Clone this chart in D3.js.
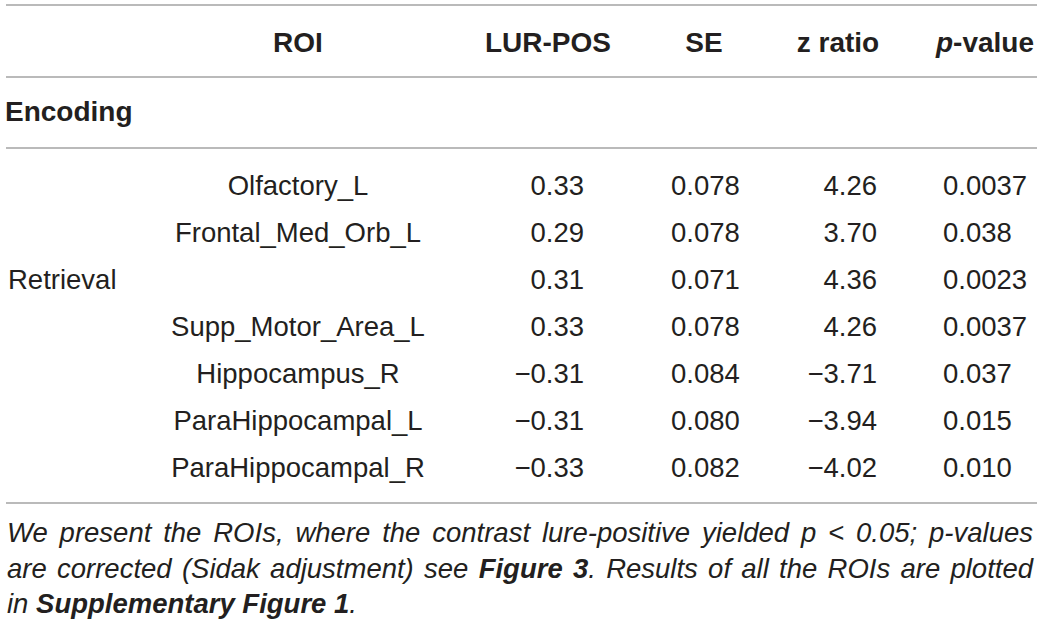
<!DOCTYPE html>
<html>
<head>
<meta charset="utf-8">
<script src="https://cdn.jsdelivr.net/npm/d3@7"></script>
<style>
  body { margin: 0; background: #fff; }
  svg text { font-family: "Liberation Sans", Arial, sans-serif; fill: #231f20; }
</style>
</head>
<body>
<script>
// table values
var headers = ["ROI", "LUR-POS", "SE", "z ratio", "p-value"];
var groupLabels = ["", "", "Retrieval", "", "", "", ""];
var rois = ["Olfactory_L", "Frontal_Med_Orb_L", "", "Supp_Motor_Area_L",
            "Hippocampus_R", "ParaHippocampal_L", "ParaHippocampal_R"];
var lurPos = [0.33, 0.29, 0.31, 0.33, -0.31, -0.31, -0.33];
var se = [0.078, 0.078, 0.071, 0.078, 0.084, 0.080, 0.082];
var zRatio = [4.26, 3.70, 4.36, 4.26, -3.71, -3.94, -4.02];
var pValue = [0.0037, 0.038, 0.0023, 0.0037, 0.037, 0.015, 0.010];
var footLines = [
  [{t: "We present the ROIs, where the contrast lure-positive yielded p < 0.05; p-values"}],
  [{t: "are corrected (Sidak adjustment) see "}, {t: "Figure 3", b: true}, {t: ". Results of all the ROIs are plotted"}],
  [{t: "in "}, {t: "Supplementary Figure 1", b: true}, {t: "."}]
];

var W = 1044, H = 626;
var svg = d3.select("body").append("svg")
  .attr("width", W).attr("height", H);

var f2 = d3.format(".2f"), r2 = d3.format(".2r");

// row positions
var y = d3.scalePoint()
  .domain(d3.range(rois.length))
  .range([195, 477]);

// rules
var rules = [5, 77, 148, 503];
svg.selectAll("line.rule").data(rules).join("line")
  .attr("class", "rule")
  .attr("x1", 6).attr("x2", 1037)
  .attr("y1", d => d).attr("y2", d => d)
  .attr("stroke", "#a3a3a3").attr("stroke-width", 1.6);

// header
var hx = [298, 548, 704, 838, 1034];
var hanchor = ["middle", "middle", "middle", "middle", "end"];
var head = svg.selectAll("text.head").data(headers).join("text")
  .attr("class", "head")
  .attr("x", (d, i) => hx[i]).attr("y", 52)
  .attr("text-anchor", (d, i) => hanchor[i])
  .style("font-size", "28px").style("font-weight", "bold");
head.each(function(d) {
  var t = d3.select(this);
  if (d == "p-value") {
    t.append("tspan").style("font-style", "italic").text("p");
    t.append("tspan").text("-value");
  } else {
    t.text(d);
  }
});

svg.append("text")
  .attr("x", 5).attr("y", 121)
  .style("font-size", "28px").style("font-weight", "bold")
  .text("Encoding");

// body cells
var cols = [
  {vals: groupLabels, x: 8, anchor: "start", fmt: d => d},
  {vals: rois, x: 298, anchor: "middle", fmt: d => d},
  {vals: lurPos, x: 584, anchor: "end", fmt: f2},
  {vals: se, x: 671, anchor: "start", fmt: r2},
  {vals: zRatio, x: 877, anchor: "end", fmt: f2},
  {vals: pValue, x: 943, anchor: "start", fmt: r2}
];

cols.forEach(function(c) {
  svg.append("g").selectAll("text").data(c.vals).join("text")
    .attr("x", c.x)
    .attr("y", (d, i) => y(i))
    .attr("text-anchor", c.anchor)
    .style("font-size", "27.5px")
    .text(c.fmt);
});

// footnote, justified for all but the last line
var footY = [542, 578, 613];
var left = 7, right = 1033;
footLines.forEach(function(parts, li) {
  var t = svg.append("text")
    .attr("x", left).attr("y", footY[li])
    .style("font-size", "27.5px").style("font-style", "italic")
    .attr("xml:space", "preserve");
  parts.forEach(function(p) {
    var s = t.append("tspan").text(p.t);
    if (p.b) s.style("font-weight", "bold");
  });
  if (li < footLines.length - 1) {
    var txt = parts.map(p => p.t).join("");
    var gaps = (txt.match(/ /g) || []).length;
    var natural = t.node().getComputedTextLength();
    t.style("word-spacing", ((right - left - natural) / gaps) + "px");
  }
});
</script>
</body>
</html>
